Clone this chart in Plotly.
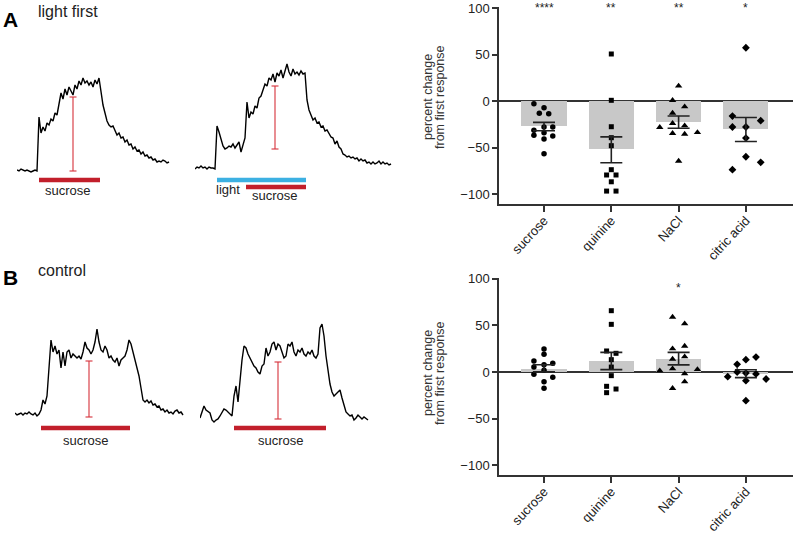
import numpy as np
import plotly.graph_objects as go

W, H = 800, 533
FONT = "Liberation Sans, Arial, sans-serif"

# ---------------- bar-chart data ----------------
categories = ["sucrose", "quinine", "NaCl", "citric acid"]
symbols = ["circle", "square", "triangle-up", "diamond"]
sizes = [5.5, 5, 6.5, 6]

# Panel A (light first): individual points and horizontal jitter (category units)
A_sucrose = [-2.5, -6.9, -12.9, -13.3, -27.6, -27.6, -31.0, -33.7, -36.6, -37.3, -40.5, -56.3]
A_sucrose_dx = [-0.15, 0, -0.07, 0.07, 0, 0.13, -0.15, 0, -0.15, 0.13, 0, 0]
A_quinine = [50.9, 1.1, -27.3, -39.1, -47.7, -73.5, -79.2, -79.2, -86.5, -96.5, -96.5]
A_quinine_dx = [0, 0, 0, 0, 0, 0, -0.07, 0.07, 0, -0.07, 0.07]
A_nacl = [16.5, 1.1, -5.8, -12.6, -23.7, -28.0, -26.2, -34.4, -35.2, -33.4, -64.2]
A_nacl_dx = [0, -0.09, 0.09, -0.09, -0.09, -0.28, 0.09, -0.09, 0.09, 0.28, 0]
A_citric = [57.6, -15.8, -20.8, -27.6, -27.6, -39.5, -59.6, -65.6, -73.5]
A_citric_dx = [0, -0.2, 0.22, -0.2, 0, 0, 0, 0.22, -0.2]
A_stars = ["****", "**", "**", "*"]

# Panel B (control)
B_sucrose = [24.6, 18.9, 11.8, 7.8, 9.3, 5.3, 1.8, -2.5, -5.7, -10.3, -17.5]
B_sucrose_dx = [0, 0, -0.15, 0, 0.13, -0.15, 0, -0.15, 0.13, 0, 0]
B_quinine = [65.6, 51.0, 22.5, 20.0, 13.2, 5.3, -3.9, -15.3, -18.2, -22.1]
B_quinine_dx = [0, 0, -0.07, 0.07, 0, 0, 0, -0.07, 0.07, -0.07]
B_nacl = [58.8, 51.7, 24.9, 27.8, 13.9, 16.4, 1.4, 3.6, -1.8, 2.8, -10.3, -17.5]
B_nacl_dx = [-0.09, 0.09, -0.09, 0.09, -0.09, 0.09, -0.28, -0.09, 0.09, 0.28, 0.09, -0.09]
B_citric = [16.0, 13.2, 8.2, 0.0, -1.1, -2.1, -5.0, -7.5, -9.3, -30.7]
B_citric_dx = [0.15, 0, -0.13, -0.13, 0, 0.15, -0.27, 0.3, 0, 0]
B_stars = ["", "", "*", ""]

y_ticks = [-100, -50, 0, 50, 100]

# ---------------- fluorescence traces (sampled every 2 s, dF in a.u.) ----------------
A1_signal = [1, 0, 2, 1, 0, 1, 0, -1, 0, 1, 0,
             54, 38, 44, 40, 48, 46, 52, 50, 58, 56,
             66, 78, 72, 82, 76, 84, 80, 76, 86, 82,
             90, 86, 93, 88, 90, 86, 89, 84, 91, 87,
             93, 78, 66, 58, 50, 46, 44, 45, 40, 36,
             38, 33, 34, 29, 31, 26, 27, 22, 24, 20,
             21, 17, 19, 15, 16, 13, 14, 11, 12, 9,
             10, 9, 11, 10, 8, 9]
A2_signal = [-1, 1, 0, 2, 0, 1, -1, 1, 0, 0, -1,
             42, 36, 30, 22, 19, 20, 22, 21, 24, 20,
             23, 26, 16, 22, 30, 66, 50, 56, 54, 62,
             60, 70, 72, 78, 84, 82, 90, 88, 94, 86,
             95, 92, 98, 90, 96, 104, 96, 92, 99, 94,
             96, 93, 97, 94, 95, 68, 58, 52, 48, 50,
             45, 46, 41, 42, 37, 38, 35, 31, 30, 24,
             27, 21, 19, 14, 13, 11, 12, 10, 11, 9,
             10, 7, 9, 7, 8, 5, 6, 4, 6, 4,
             5, 7, 4, 6, 4, 5, 3, 4]
B1_signal = [1, -1, 0, 1, -1, 1, 0, 2, 0, -1, 1, -2, 0,
             4, 14, 10, 18, 50, 74, 62, 68, 60, 64,
             46, 62, 48, 62, 64, 56, 60, 58, 56, 58,
             55, 62, 72, 66, 64, 60, 64, 72, 85, 72,
             64, 62, 68, 64, 56, 58, 54, 52, 56, 48,
             54, 56, 58, 64, 74, 70, 62, 54, 48, 38,
             26, 14, 12, 14, 11, 13, 9, 10, 7, 8,
             4, 5, 2, 4, 1, 2, 0, 3, 4, 1,
             2, -1]
B2_signal = [-2, 3, 10, 6, 4, 3, -4, -6, -4, -3,
             0, 4, 7, 6, 4, 2, 0, 20, 30, 14,
             36, 56, 70, 68, 62, 58, 54, 50, 48, 44,
             42, 50, 52, 68, 60, 64, 72, 74, 66, 72,
             70, 64, 58, 60, 72, 70, 74, 64, 60, 66,
             64, 68, 62, 60, 64, 62, 66, 60, 58, 62,
             88, 92, 80, 60, 44, 32, 24, 20, 22, 24,
             26, 18, 10, 4, 2, 0, 1, -4, -2, 1,
             -1, -3, -1, -3, -4]
SAMPLE_DT = 2

# stimulus epochs (s) and measured response (scale bar: time, low, high)
A1_sucrose_on = [22, 83]
A1_measure = [56, 0, 74]
A2_light_on = [22, 111]
A2_sucrose_on = [51, 111]
A2_measure = [80, 19, 82]
B1_sucrose_on = [26, 115]
B1_measure = [74, -3, 53]
B2_sucrose_on = [34, 126]
B2_measure = [78, -3, 54]

# ---------------- styles ----------------
BAR_GRAY = "#c8c8c8"
AX = "#333333"
TXT = "#222222"
RED = "#c21f2b"
RED_LIGHT = "#d6303a"
BLUE = "#3cb0e2"

fig = go.Figure()
annotations = []


def px_x(p):
    return p / W


def px_y(p):
    return 1 - p / H


# ---------------- bar charts ----------------
def add_bar_chart(xa, ya, groups, jitters, stars, star_y):
    means = [float(np.mean(v)) for v in groups]
    sems = [float(np.std(v, ddof=1) / np.sqrt(len(v))) for v in groups]
    fig.add_trace(go.Bar(x=list(range(len(categories))), y=means, width=0.67,
                         marker=dict(color=BAR_GRAY, line=dict(width=0)),
                         xaxis=xa, yaxis=ya, hoverinfo="skip"))
    for i, (vals, dx) in enumerate(zip(groups, jitters)):
        fig.add_trace(go.Scatter(x=[i + d for d in dx], y=vals, mode="markers",
                                 marker=dict(symbol=symbols[i], size=sizes[i], color="black"),
                                 xaxis=xa, yaxis=ya, cliponaxis=False))
    fig.add_trace(go.Scatter(x=list(range(len(categories))), y=means, mode="markers",
                             marker=dict(size=1, color="rgba(0,0,0,0)"),
                             error_y=dict(type="data", array=sems, visible=True,
                                          color=TXT, thickness=1.6, width=11),
                             xaxis=xa, yaxis=ya))
    for i, s in enumerate(stars):
        if s:
            annotations.append(dict(x=i, y=star_y, xref=xa, yref=ya, text=s, showarrow=False,
                                    xanchor="center", yanchor="middle",
                                    font=dict(family=FONT, size=12, color=TXT)))


add_bar_chart("x", "y", [A_sucrose, A_quinine, A_nacl, A_citric],
              [A_sucrose_dx, A_quinine_dx, A_nacl_dx, A_citric_dx], A_stars, 100)
add_bar_chart("x2", "y2", [B_sucrose, B_quinine, B_nacl, B_citric],
              [B_sucrose_dx, B_quinine_dx, B_nacl_dx, B_citric_dx], B_stars, 90)

xaxis_style = dict(range=[-0.669, 3.70], tickvals=list(range(len(categories))), ticktext=categories,
                   tickangle=-47, showgrid=False, zeroline=False, showline=True, linecolor=AX,
                   linewidth=1.5, ticks="outside", ticklen=6, tickwidth=1.5, tickcolor=AX,
                   ticklabelstandoff=-4,
                   tickfont=dict(family=FONT, size=13, color=TXT), domain=[px_x(499), px_x(793)])
yaxis_style = dict(range=[-110.5, 101], tickvals=y_ticks, showgrid=False, zeroline=True,
                   zerolinecolor=AX, zerolinewidth=1.5, showline=True, linecolor=AX, linewidth=1.5,
                   ticks="outside", ticklen=5, tickwidth=1.5, tickcolor=AX,
                   tickfont=dict(family=FONT, size=13, color=TXT))

layout = dict(
    xaxis=dict(xaxis_style, anchor="y"),
    yaxis=dict(yaxis_style, anchor="x", domain=[px_y(204.1), px_y(7.4)]),
    xaxis2=dict(xaxis_style, anchor="y2"),
    yaxis2=dict(yaxis_style, anchor="x2", domain=[px_y(475.3), px_y(277.6)]),
)

for cy in [97, 373]:
    for cx, t in [(428, "percent change"), (440, "from first response")]:
        annotations.append(dict(x=px_x(cx), y=px_y(cy), xref="paper", yref="paper", text=t,
                                textangle=-90, showarrow=False, xanchor="center", yanchor="middle",
                                font=dict(family=FONT, size=12.5, color="#333333")))

# ---------------- trace panels ----------------
PW, PT, PB = 200, 110, 45


def add_panel(idx, x0, base, signal, measure, bars, labels):
    xa, ya = f"x{idx}", f"y{idx}"
    layout[f"xaxis{idx}"] = dict(domain=[px_x(x0), px_x(x0 + PW)], range=[0, PW], visible=False,
                                 anchor=ya)
    layout[f"yaxis{idx}"] = dict(domain=[px_y(base + PB), px_y(base - PT)], range=[-PB, PT],
                                 visible=False, anchor=xa)
    t = [i * SAMPLE_DT for i in range(len(signal))]
    fig.add_trace(go.Scatter(x=t, y=signal, mode="lines", line=dict(color="black", width=1.4),
                             xaxis=xa, yaxis=ya))
    mt, lo, hi = measure
    fig.add_trace(go.Scatter(x=[mt, mt], y=[lo, hi], mode="lines+markers",
                             line=dict(color=RED_LIGHT, width=1.1),
                             marker=dict(symbol="line-ew", size=5,
                                         line=dict(color=RED_LIGHT, width=1.1)),
                             xaxis=xa, yaxis=ya))
    for (on, off), lvl, col in bars:
        fig.add_trace(go.Scatter(x=[on, off], y=[lvl, lvl], mode="lines",
                                 line=dict(color=col, width=4.5), xaxis=xa, yaxis=ya))
    for txt, tx, ty in labels:
        annotations.append(dict(x=tx, y=ty, xref=xa, yref=ya, text=txt, showarrow=False,
                                xanchor="center", yanchor="middle",
                                font=dict(family=FONT, size=13, color=TXT)))


add_panel(3, 17, 171, A1_signal, A1_measure,
          [(A1_sucrose_on, -9, RED)], [("sucrose", 51, -19)])
add_panel(4, 195, 168, A2_signal, A2_measure,
          [(A2_light_on, -12, BLUE), (A2_sucrose_on, -19, RED)],
          [("light", 33, -22), ("sucrose", 80, -28)])
add_panel(5, 15, 414, B1_signal, B1_measure,
          [(B1_sucrose_on, -14, RED)], [("sucrose", 71, -26)])
add_panel(6, 200, 416, B2_signal, B2_measure,
          [(B2_sucrose_on, -12, RED)], [("sucrose", 81, -24)])

# panel letters and titles
annotations += [
    dict(x=px_x(1), y=px_y(19), xref="paper", yref="paper", text="<b>A</b>", showarrow=False,
         xanchor="left", yanchor="middle", font=dict(family=FONT, size=21, color="black")),
    dict(x=px_x(36), y=px_y(12), xref="paper", yref="paper", text="light first", showarrow=False,
         xanchor="left", yanchor="middle", font=dict(family=FONT, size=16, color=TXT)),
    dict(x=px_x(1), y=px_y(277), xref="paper", yref="paper", text="<b>B</b>", showarrow=False,
         xanchor="left", yanchor="middle", font=dict(family=FONT, size=21, color="black")),
    dict(x=px_x(36), y=px_y(270), xref="paper", yref="paper", text="control", showarrow=False,
         xanchor="left", yanchor="middle", font=dict(family=FONT, size=16, color=TXT)),
]

layout.update(width=W, height=H, margin=dict(l=0, r=0, t=0, b=0, autoexpand=False),
              paper_bgcolor="white", plot_bgcolor="white", showlegend=False,
              annotations=annotations, bargap=0)
fig.update_layout(**layout)
fig.write_html("out.html", config={"displayModeBar": False},
               post_script="document.body.style.margin='0';document.body.style.overflow='hidden';")
